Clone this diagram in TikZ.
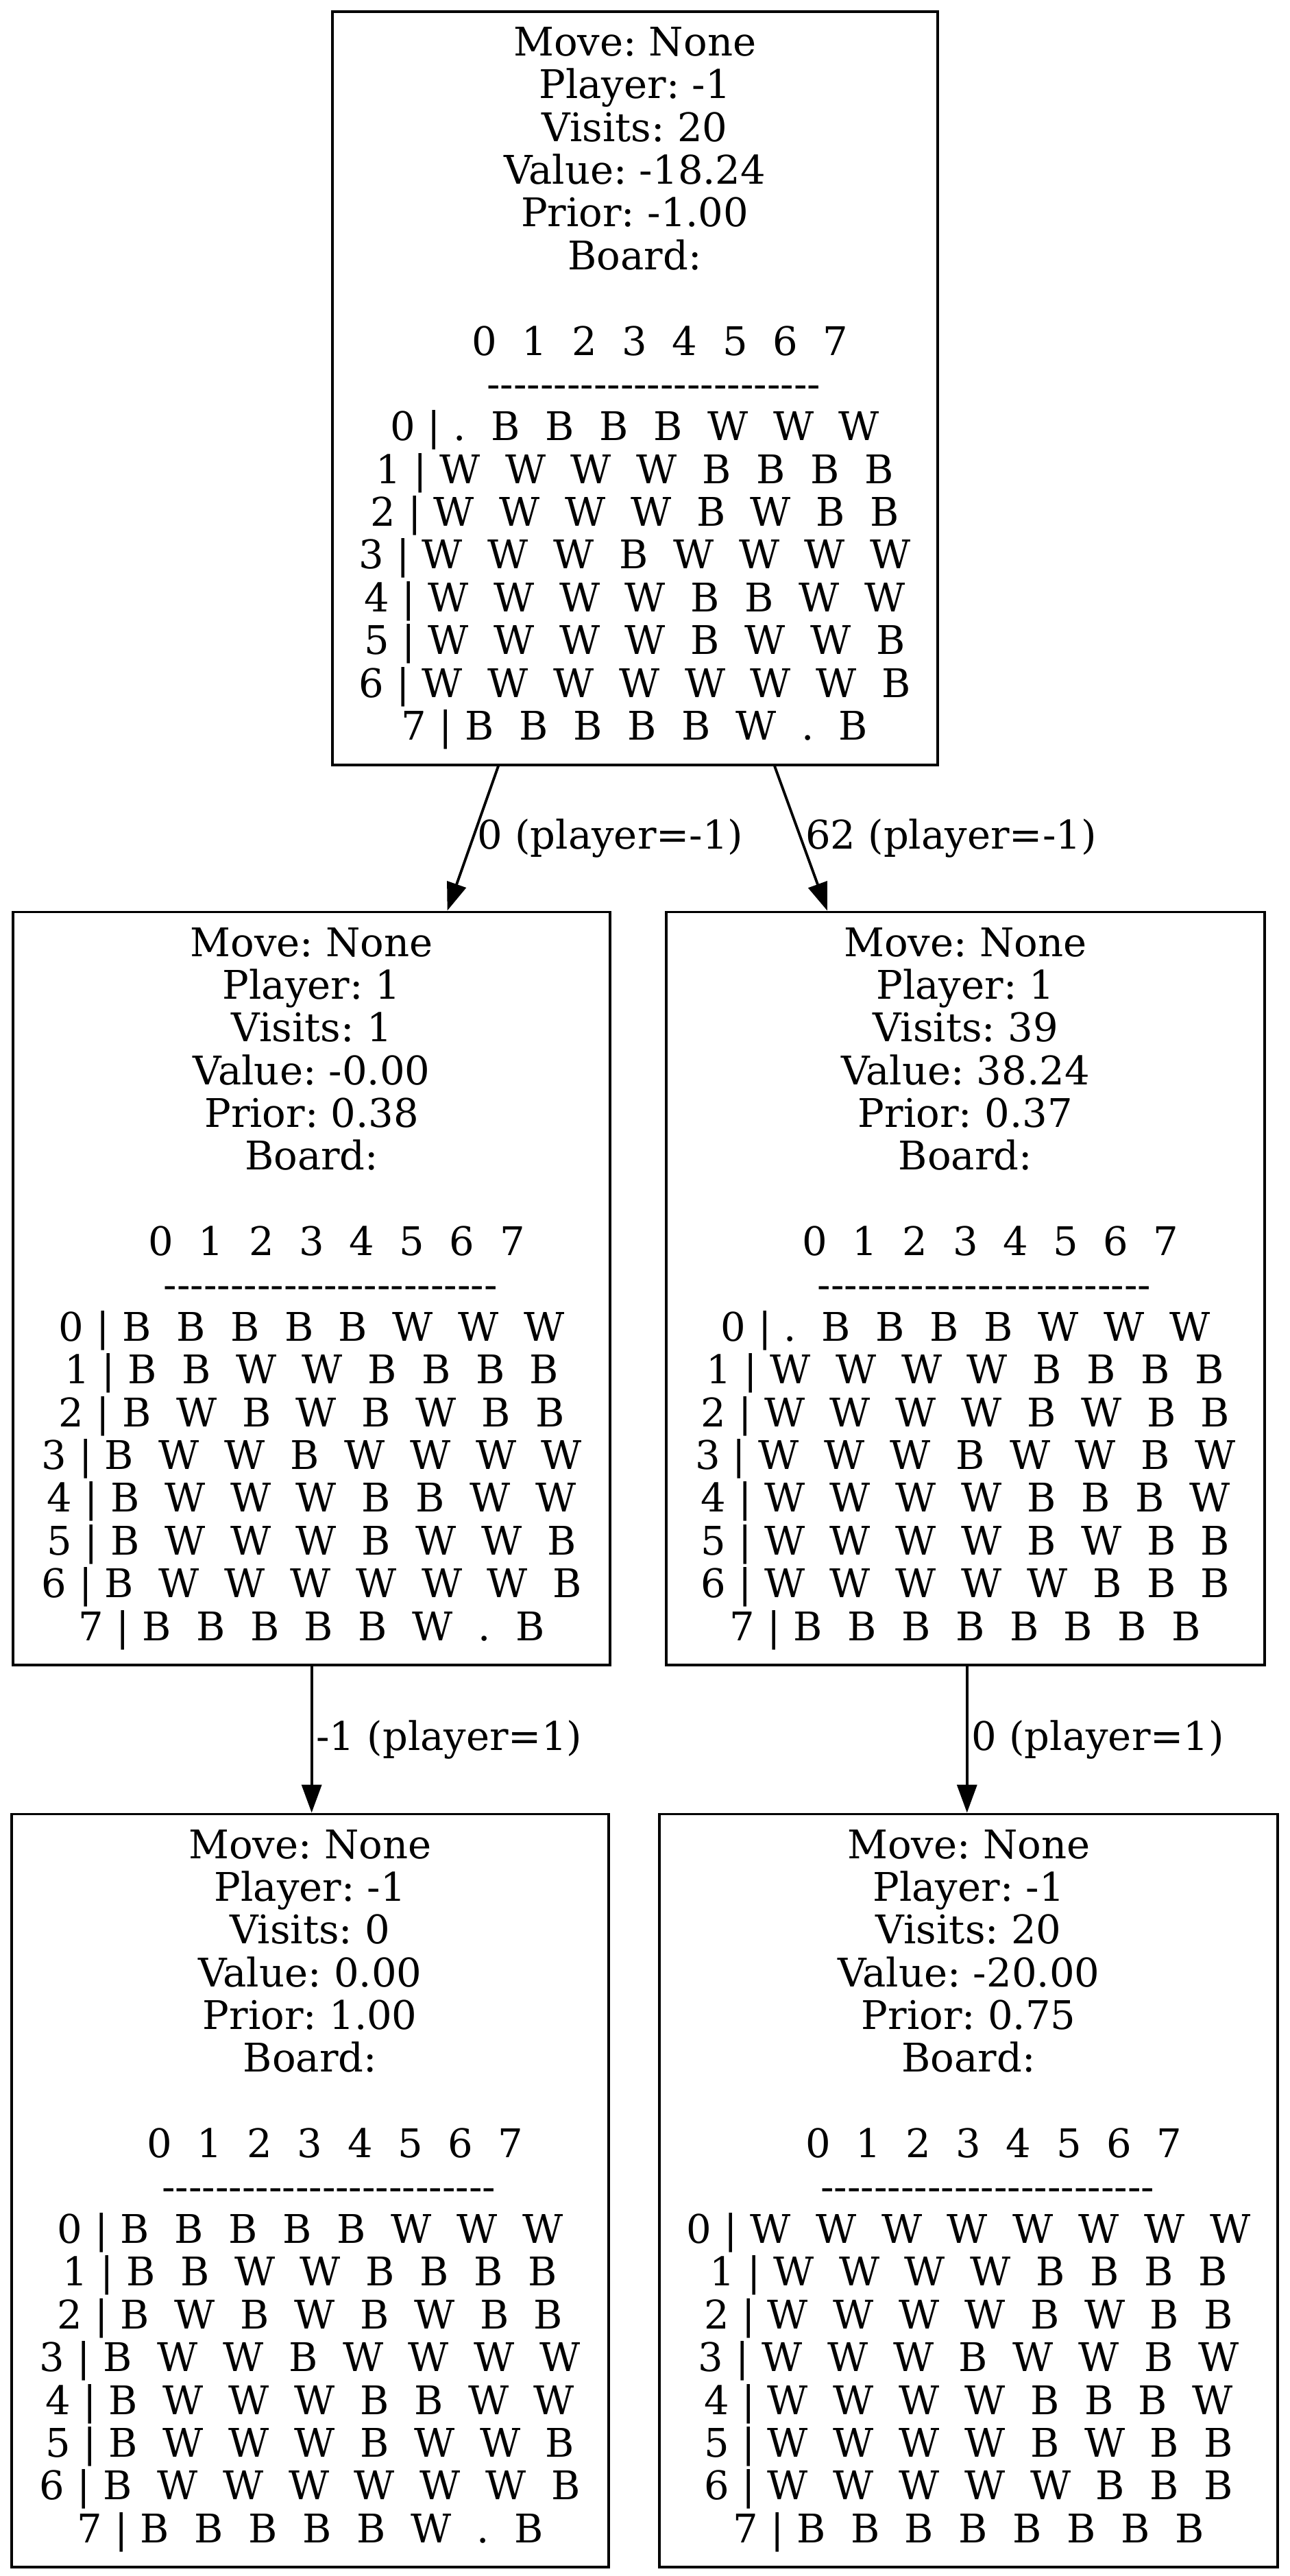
\documentclass[tikz,border=0pt]{standalone}
\usepackage{fontspec}
\setmainfont{DejaVu Serif}
\usetikzlibrary{arrows.meta}

% cases du plateau
\newcommand{\dsp}{\ \ }
\newcommand{\brow}[9]{#1 | #2\dsp#3\dsp#4\dsp#5\dsp#6\dsp#7\dsp#8\dsp#9}
\newcommand{\bhead}{\hspace*{4\fontdimen2\font}0\dsp1\dsp2\dsp3\dsp4\dsp5\dsp6\dsp7}
\newcommand{\bdash}{\hspace*{3\fontdimen2\font}\foreach \i in {1,...,25}{-}}
\newcommand{\stats}[4]{Move: None\\Player: #1\\Visits: #2\\Value: #3\\Prior: #4\\Board:\\[26pt]\bhead\\\bdash}

\begin{document}
\begin{tikzpicture}[x=1pt,y=-1pt,
  state/.style={draw, line width=1.6pt, inner sep=0pt, minimum height=458pt, align=center,
    font=\fontsize{24}{26}\selectfont\frenchspacing},
  lbl/.style={anchor=west, inner sep=0pt, xshift=2pt, font=\fontsize{24}{26}\selectfont},
  >={Triangle[length=17pt,width=12pt]}]

\useasboundingbox (0,0) rectangle (784,1566.3);

% Racine
\node[state, minimum width=368pt] (root) at (386,236) {\stats{-1}{20}{-18.24}{-1.00}\\
  \brow0.BBBBWWW\\ \brow1WWWWBBBB\\ \brow2WWWWBWBB\\ \brow3WWWBWWWW\\
  \brow4WWWWBBWW\\ \brow5WWWWBWWB\\ \brow6WWWWWWWB\\ \brow7BBBBBW.B};

% Enfants
\node[state, minimum width=363pt] (left) at (189.5,783.5) {\stats{1}{1}{-0.00}{0.38}\\
  \brow0BBBBBWWW\\ \brow1BBWWBBBB\\ \brow2BWBWBWBB\\ \brow3BWWBWWWW\\
  \brow4BWWWBBWW\\ \brow5BWWWBWWB\\ \brow6BWWWWWWB\\ \brow7BBBBBW.B};
\node[state, minimum width=364pt] (right) at (587,783.5) {\stats{1}{39}{38.24}{0.37}\\
  \brow0.BBBBWWW\\ \brow1WWWWBBBB\\ \brow2WWWWBWBB\\ \brow3WWWBWWBW\\
  \brow4WWWWBBBW\\ \brow5WWWWBWBB\\ \brow6WWWWWBBB\\ \brow7BBBBBBBB};

% Petits-enfants
\node[state, minimum width=363pt] (leftleaf) at (188.5,1332) {\stats{-1}{0}{0.00}{1.00}\\
  \brow0BBBBBWWW\\ \brow1BBWWBBBB\\ \brow2BWBWBWBB\\ \brow3BWWBWWWW\\
  \brow4BWWWBBWW\\ \brow5BWWWBWWB\\ \brow6BWWWWWWB\\ \brow7BBBBBW.B};
\node[state, minimum width=376pt] (rightleaf) at (589,1332) {\stats{-1}{20}{-20.00}{0.75}\\
  \brow0WWWWWWWW\\ \brow1WWWWBBBB\\ \brow2WWWWBWBB\\ \brow3WWWBWWBW\\
  \brow4WWWWBBBW\\ \brow5WWWWBWBB\\ \brow6WWWWWBBB\\ \brow7BBBBBBBB};

% Aretes
\draw[->, line width=1.6pt] ([xshift=-83pt]root.south) -- node[lbl] {0 (player=-1)} ([xshift=82.5pt]left.north);
\draw[->, line width=1.6pt] ([xshift=85pt]root.south) -- node[lbl] {62 (player=-1)} ([xshift=-84pt]right.north);
\draw[->, line width=1.6pt] (left.south) -- node[lbl] {-1 (player=1)} (left.south |- leftleaf.north);
\draw[->, line width=1.6pt] ([xshift=1pt]right.south) -- node[lbl] {0 (player=1)} ([xshift=1pt]right.south |- rightleaf.north);
\end{tikzpicture}
\end{document}
